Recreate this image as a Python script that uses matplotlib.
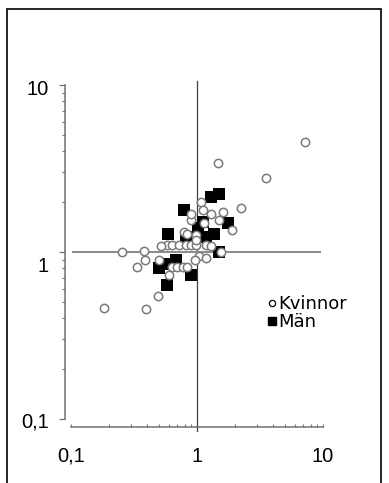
import matplotlib
matplotlib.use("Agg")
import matplotlib.pyplot as plt
from matplotlib.lines import Line2D
from matplotlib.patches import Rectangle
from matplotlib.ticker import LogLocator, NullFormatter
import matplotlib.transforms as mtransforms

plt.rcParams['font.family'] = ['DejaVu Sans']
num_font = 'Liberation Sans'

# Kvinnor (open circles)
kv_x = [0.185, 0.394, 0.488, 0.253, 0.378, 0.39, 0.333, 0.497, 0.575, 0.64,
        0.72, 0.82, 0.90, 0.64, 0.70, 0.77, 0.84, 0.60, 0.79, 0.84,
        0.90, 0.90, 1.08, 1.11, 1.29, 1.60, 2.23, 1.91, 1.50, 1.14,
        0.98, 1.18, 1.29, 0.98, 1.04, 1.18, 0.97, 1.55, 0.98, 0.52,
        7.2, 1.48, 3.56]
kv_y = [0.46, 0.456, 0.545, 1.0, 1.01, 0.90, 0.817, 0.90, 1.10, 1.10,
        1.10, 1.10, 1.10, 0.817, 0.817, 0.817, 0.817, 0.728, 1.32, 1.29,
        1.55, 1.70, 2.0, 1.78, 1.70, 1.74, 1.83, 1.35, 1.55, 1.49,
        1.26, 1.10, 1.09, 1.10, 0.94, 0.92, 0.90, 1.0, 1.18, 1.09,
        4.58, 3.42, 2.76]

# Män (filled squares)
man_x = [0.79, 1.29, 1.50, 0.593, 0.503, 0.585, 0.896, 1.11, 1.37, 1.75,
         1.50, 0.82, 0.68, 1.18, 1.02, 0.60]
man_y = [1.78, 2.14, 2.22, 1.29, 0.80, 0.634, 0.728, 1.52, 1.29, 1.49,
         1.0, 1.23, 0.90, 1.23, 1.40, 0.85]

x_ticks = [0.1, 1, 10]
x_labels = ['0,1', '1', '10']
y_ticks = [0.1, 1, 10]
y_labels = ['0,1', '1', '10']

W, H = 389, 483
fig = plt.figure(figsize=(W / 100, H / 100), dpi=100)

# outer frame (open at the bottom)
fig.patches.append(Rectangle((7.3 / W, -0.05), (381 - 7.3) / W, 1.05 - 9.3 / H,
                             transform=fig.transFigure, fill=False,
                             edgecolor='black', linewidth=1.2))

ax = fig.add_axes([70.7 / W, 1 - 419 / H, (323 - 70.7) / W, (419 - 85) / H])
ax.set_xscale('log')
ax.set_yscale('log')
ax.set_xlim(0.1, 10)
ax.set_ylim(0.1, 10)

axis_col = '#707070'
for s in ['top', 'right']:
    ax.spines[s].set_visible(False)
ax.spines['left'].set_position(('outward', 4.1))
ax.spines['bottom'].set_position(('outward', 5.8))
for s in ['left', 'bottom']:
    ax.spines[s].set_color(axis_col)
    ax.spines[s].set_linewidth(1.1)

ax.set_xticks(x_ticks)
ax.set_yticks(y_ticks)
ax.set_xticklabels(x_labels, fontfamily=num_font)
ax.set_yticklabels([])
ax.xaxis.set_minor_locator(LogLocator(base=10, subs=range(2, 10)))
ax.yaxis.set_minor_locator(LogLocator(base=10, subs=range(2, 10)))
ax.xaxis.set_minor_formatter(NullFormatter())
ax.yaxis.set_minor_formatter(NullFormatter())
ax.tick_params(axis='x', which='both', direction='in', length=2.5, width=0.8,
               color=axis_col, labelsize=14.5, pad=14)
ax.tick_params(axis='y', which='major', direction='out', length=4, width=0.9,
               color=axis_col)
ax.tick_params(axis='y', which='minor', direction='out', length=2.5, width=0.8,
               color=axis_col)

# y labels drawn as text (original labels sit a bit off their ticks)
label_shift = {'0,1': -3, '1': -15, '10': -4.5}
for val, lab in zip(y_ticks, y_labels):
    tr = mtransforms.blended_transform_factory(ax.transAxes, ax.transData)
    tr = mtransforms.offset_copy(tr, fig=fig, x=-21.7, y=label_shift[lab], units='dots')
    ax.text(0, val, lab, transform=tr, ha='right', va='center', fontsize=14.5,
            fontfamily=num_font, clip_on=False)

# reference lines
ax.axvline(1, ymin=-0.036, ymax=1.012, color='#404040', linewidth=0.9, clip_on=False)
ax.axhline(1, xmin=0.008, xmax=0.988, color='#8a8a8a', linewidth=1.4, clip_on=False)

ax.scatter(man_x, man_y, marker='s', s=8.0 ** 2, color='black', zorder=3,
           clip_on=False, linewidths=0)
ax.scatter(kv_x, kv_y, marker='o', s=6.0 ** 2, facecolor='white',
           edgecolor='#7a7a7a', linewidths=1.1, zorder=4, clip_on=False)

handles = [Line2D([], [], linestyle='none', marker='o', markersize=4.5,
                  markerfacecolor='white', markeredgecolor='black',
                  markeredgewidth=0.9, label='Kvinnor'),
           Line2D([], [], linestyle='none', marker='s', markersize=5.2,
                  color='black', label='Män')]
fig.legend(handles=handles, loc='upper left',
           bbox_to_anchor=(267.5 / W, 1 - 295 / H), frameon=False,
           fontsize=13, handlelength=0.5, handletextpad=0.1,
           borderpad=0, borderaxespad=0, labelspacing=0)

fig.savefig('out.png', dpi=100)
